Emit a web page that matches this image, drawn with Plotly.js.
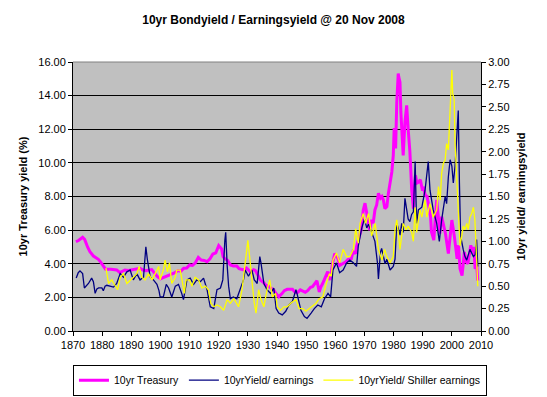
<!DOCTYPE html>
<html>
<head>
<meta charset="utf-8">
<script src="https://cdn.plot.ly/plotly-3.0.1.min.js"></script>
<style>html,body{margin:0;padding:0;background:#fff;}#chart{width:547px;height:397px;}</style>
</head>
<body>
<div id="chart"></div>
<script>
// 10yr Treasury yield (%) - left axis
const tsyYears = [1871.0,1872.0,1873.3,1874.0,1875.0,1875.8,1877.0,1878.7,1879.5,1880.4,1881.2,1883.0,1885.0,1886.1,1887.8,1889.0,1890.0,1891.9,1893.0,1894.0,1895.0,1897.0,1898.0,1899.0,1900.0,1901.5,1903.0,1905.0,1906.0,1907.0,1908.0,1909.0,1910.0,1911.0,1912.0,1913.0,1914.0,1915.0,1916.0,1917.0,1918.0,1919.0,1920.0,1921.0,1921.5,1922.0,1923.0,1924.0,1925.0,1926.2,1927.0,1928.5,1929.5,1930.8,1932.0,1932.6,1933.5,1934.3,1935.4,1936.0,1937.2,1938.0,1938.9,1939.8,1940.6,1941.8,1942.5,1943.5,1944.5,1945.3,1946.2,1947.0,1948.0,1948.7,1949.7,1950.5,1951.5,1952.2,1953.0,1953.7,1954.5,1955.0,1955.7,1956.5,1957.4,1958.2,1958.6,1959.1,1959.8,1960.9,1961.5,1962.6,1963.5,1964.4,1965.5,1966.1,1967.0,1967.3,1968.4,1969.0,1969.6,1970.2,1970.8,1971.3,1971.8,1972.5,1973.0,1973.6,1974.2,1974.8,1975.5,1976.0,1976.5,1977.0,1977.7,1978.2,1978.8,1979.4,1979.9,1980.2,1980.5,1980.7,1981.1,1981.6,1981.8,1982.2,1982.5,1983.0,1983.3,1983.9,1984.5,1985.0,1985.6,1986.2,1986.8,1987.1,1987.5,1988.0,1988.6,1989.2,1989.8,1990.3,1990.9,1991.5,1992.1,1992.7,1993.0,1993.8,1994.8,1995.5,1995.9,1996.5,1997.0,1997.8,1998.8,1999.5,2000.0,2000.8,2001.3,2001.8,2002.3,2002.8,2003.5,2004.3,2005.0,2005.5,2006.5,2007.0,2007.5,2008.0,2008.5,2008.9];
const tsyVals = [5.31,5.40,5.57,5.45,5.00,4.72,4.46,4.26,4.10,3.87,3.67,3.67,3.63,3.47,3.63,3.60,3.63,3.67,3.73,3.63,3.59,3.65,3.45,3.23,3.11,3.20,3.33,3.47,3.59,3.55,3.73,3.75,3.93,3.90,4.06,4.38,4.22,4.20,4.12,4.30,4.58,4.65,5.08,4.88,4.42,4.32,4.20,3.93,3.87,3.87,3.70,3.63,3.75,3.53,3.65,3.59,3.25,3.03,2.88,2.75,2.64,2.55,2.44,2.20,2.04,2.24,2.40,2.48,2.50,2.48,2.30,2.28,2.45,2.40,2.30,2.40,2.60,2.64,2.80,2.99,2.32,2.60,2.84,3.20,3.53,3.03,3.60,4.02,4.60,4.32,3.90,4.02,4.10,4.26,4.30,4.72,4.60,5.02,5.81,6.10,7.20,7.60,7.00,6.41,6.00,6.61,6.40,7.20,7.50,8.19,7.90,8.00,7.79,7.28,7.40,8.17,8.86,9.46,10.45,12.00,12.03,10.85,13.62,15.31,15.10,14.80,13.03,11.44,10.45,12.43,13.42,12.03,10.65,8.46,7.28,8.46,9.26,8.80,8.86,9.00,8.46,8.50,8.07,8.00,7.48,6.80,5.90,5.40,7.80,6.50,5.80,6.80,6.40,5.80,4.60,5.80,6.60,5.70,5.00,4.30,5.10,3.70,3.30,4.70,4.10,4.00,5.10,4.70,5.00,3.70,4.00,3.00];

// 10yr yield / earnings yield - right axis
const peYears = [1871.1,1871.8,1872.4,1873.3,1873.9,1874.5,1875.3,1876.4,1877.0,1877.6,1878.2,1878.8,1879.9,1880.4,1881.0,1881.6,1882.7,1883.9,1885.0,1886.2,1887.3,1888.5,1889.6,1890.7,1891.9,1893.0,1894.2,1894.7,1895.0,1895.5,1895.9,1896.5,1897.6,1898.8,1899.5,1899.9,1901.0,1902.0,1902.8,1903.9,1905.1,1906.2,1907.3,1907.9,1909.1,1910.2,1911.4,1912.5,1913.7,1914.8,1916.0,1917.1,1918.3,1919.4,1920.6,1921.4,1922.1,1922.4,1922.9,1923.4,1924.0,1925.0,1926.2,1927.4,1928.5,1929.1,1930.2,1931.4,1932.2,1933.2,1934.1,1934.5,1935.5,1936.6,1937.8,1938.9,1939.7,1940.6,1941.8,1943.0,1944.1,1945.3,1946.5,1947.0,1948.2,1949.4,1950.3,1951.7,1952.8,1954.0,1955.2,1956.3,1957.5,1958.4,1959.2,1960.4,1961.5,1962.7,1963.9,1965.0,1966.2,1967.3,1967.9,1969.1,1970.0,1970.8,1971.4,1972.5,1973.6,1974.5,1974.8,1975.5,1975.9,1977.1,1977.7,1978.8,1979.9,1980.5,1981.1,1981.6,1982.2,1982.8,1983.3,1983.9,1984.5,1985.0,1985.6,1986.2,1986.8,1987.4,1987.9,1988.5,1989.7,1990.8,1991.9,1992.5,1993.6,1994.8,1995.7,1996.5,1997.7,1998.2,1998.8,1999.4,2000.0,2000.5,2001.1,2001.7,2002.2,2002.6,2003.0,2003.9,2004.5,2005.1,2006.2,2007.4,2008.0,2008.5,2008.9];
const peVals = [0.59,0.65,0.67,0.64,0.48,0.50,0.53,0.59,0.55,0.42,0.47,0.48,0.48,0.45,0.50,0.51,0.50,0.49,0.53,0.64,0.60,0.66,0.68,0.57,0.64,0.57,0.60,0.83,0.94,0.80,0.72,0.60,0.57,0.52,0.45,0.38,0.38,0.52,0.48,0.38,0.50,0.52,0.42,0.35,0.57,0.59,0.52,0.57,0.55,0.59,0.46,0.27,0.25,0.46,0.48,0.57,1.01,1.10,0.73,0.50,0.36,0.38,0.36,0.48,0.57,0.68,0.61,0.68,0.57,0.53,0.83,0.76,0.53,0.46,0.42,0.48,0.25,0.20,0.18,0.22,0.29,0.33,0.46,0.40,0.23,0.16,0.14,0.20,0.25,0.29,0.27,0.36,0.42,0.38,0.68,0.76,0.65,0.68,0.76,0.79,0.76,0.72,0.95,1.15,1.25,1.15,1.19,1.10,1.00,0.75,0.58,0.88,0.92,0.75,0.80,0.68,0.72,0.80,1.20,1.15,1.07,1.20,1.10,1.48,1.33,1.25,1.22,1.30,1.33,1.89,1.20,1.35,1.38,1.57,1.89,1.57,1.35,1.20,1.00,1.24,1.50,1.42,1.72,1.91,1.84,1.65,1.84,2.20,2.46,1.65,1.06,0.91,0.83,0.79,0.91,0.83,0.85,1.02,0.72];

// 10yr yield / Shiller earnings yield - right axis
const shYears = [1881.3,1882.2,1883.3,1884.5,1885.3,1886.2,1887.3,1888.5,1889.6,1890.7,1891.9,1892.7,1893.6,1894.7,1895.9,1897.1,1898.2,1899.4,1899.9,1901.0,1901.6,1902.4,1903.1,1903.9,1905.1,1905.6,1906.8,1907.6,1908.2,1908.8,1910.0,1910.8,1911.9,1913.1,1914.2,1915.4,1916.5,1917.3,1918.3,1919.4,1920.6,1921.7,1922.9,1924.0,1925.2,1926.8,1928.0,1928.8,1929.7,1930.0,1930.6,1931.4,1932.2,1932.8,1933.7,1934.5,1935.5,1936.6,1937.5,1938.4,1939.5,1940.1,1941.2,1942.4,1943.5,1944.7,1946.5,1947.6,1948.8,1949.9,1951.1,1952.2,1953.4,1954.5,1955.7,1956.9,1958.0,1958.6,1959.2,1960.4,1961.5,1962.7,1963.9,1965.0,1966.2,1967.0,1967.9,1968.5,1969.6,1970.4,1971.4,1972.5,1973.7,1974.8,1976.0,1976.9,1977.7,1978.8,1979.9,1980.5,1981.1,1981.6,1982.2,1983.3,1984.3,1985.0,1986.2,1986.8,1987.4,1987.9,1989.1,1989.7,1990.8,1991.4,1992.5,1993.6,1994.8,1995.4,1996.0,1996.5,1997.1,1997.7,1998.2,1998.8,1999.4,2000.0,2000.3,2000.8,2001.1,2001.7,2002.2,2002.8,2003.4,2003.9,2004.5,2005.1,2005.6,2006.2,2006.8,2007.4,2007.9,2008.3,2008.7,2008.9];
const shVals = [0.70,0.53,0.57,0.50,0.46,0.60,0.64,0.53,0.57,0.60,0.64,0.72,0.60,0.57,0.64,0.57,0.64,0.72,0.57,0.68,0.79,0.66,0.76,0.53,0.60,0.68,0.68,0.50,0.42,0.57,0.57,0.50,0.60,0.57,0.48,0.50,0.46,0.31,0.27,0.29,0.27,0.23,0.35,0.31,0.36,0.27,0.46,0.68,0.91,1.01,0.83,0.53,0.31,0.20,0.46,0.35,0.27,0.46,0.57,0.38,0.42,0.27,0.23,0.27,0.27,0.31,0.35,0.25,0.25,0.22,0.25,0.27,0.31,0.36,0.38,0.53,0.64,0.61,0.79,0.87,0.76,0.91,0.83,0.83,0.91,1.14,0.98,1.20,1.31,1.20,1.31,1.06,1.20,0.91,0.79,0.91,0.83,0.76,0.83,1.13,1.24,1.10,0.91,1.20,1.13,1.17,1.10,1.00,1.38,1.10,1.35,1.27,1.46,1.27,1.42,1.27,1.35,1.61,1.46,1.76,1.87,1.91,2.09,2.02,2.50,2.91,2.65,2.58,2.09,1.65,1.38,0.95,1.06,1.17,1.13,1.20,1.13,1.27,1.31,1.38,1.24,0.91,0.72,0.50];

const seriesNames = ['10yr Treasury', '10yrYield/ earnings', '10yrYield/ Shiller earnings'];
const xTicks = [1870,1880,1890,1900,1910,1920,1930,1940,1950,1960,1970,1980,1990,2000,2010];

const FONT = 'Arial, "Liberation Sans", sans-serif';

const traces = [
  {x: tsyYears, y: tsyVals, name: seriesNames[0], type: 'scatter', mode: 'lines',
   line: {color: '#FF00FF', width: 3}, yaxis: 'y'},
  {x: peYears, y: peVals, name: seriesNames[1], type: 'scatter', mode: 'lines',
   line: {color: '#000080', width: 1.3}, yaxis: 'y2'},
  {x: shYears, y: shVals, name: seriesNames[2], type: 'scatter', mode: 'lines',
   line: {color: '#FFFF00', width: 1.3}, yaxis: 'y2'}
];

const layout = {
  width: 547, height: 397,
  margin: {l: 73, r: 66, t: 62, b: 66, pad: 0, autoexpand: false},
  paper_bgcolor: '#FFFFFF',
  plot_bgcolor: '#C0C0C0',
  font: {family: FONT, size: 11, color: '#000'},
  title: {text: '<b>10yr Bondyield / Earningsyield @ 20 Nov 2008</b>',
          font: {family: FONT, size: 12, color: '#000'}, x: 0.5, xanchor: 'center', y: 0.95, yanchor: 'middle'},
  showlegend: true,
  legend: {orientation: 'h', x: -0.0001, xanchor: 'left', y: -0.125, yanchor: 'top',
           bordercolor: '#000', borderwidth: 1, bgcolor: '#FFFFFF',
           font: {family: FONT, size: 10.5, color: '#000'}, tracegroupgap: 0, itemwidth: 30},
  xaxis: {range: [1870, 2010], tickmode: 'array', tickvals: xTicks, ticktext: xTicks.map(String),
          showgrid: false, zeroline: false, showline: true, linecolor: '#000', linewidth: 1,
          ticks: 'outside', ticklen: 4, tickcolor: '#000', tickfont: {family: FONT, size: 11}},
  yaxis: {range: [0, 16], dtick: 2, tickformat: '.2f', showgrid: true, gridcolor: '#000', gridwidth: 1,
          zeroline: false, showline: true, linecolor: '#000', linewidth: 1,
          ticks: 'outside', ticklen: 4, tickcolor: '#000', tickfont: {family: FONT, size: 11},
          title: {text: '<b>10yr Treasury yield (%)</b>', font: {family: FONT, size: 11}, standoff: 8}},
  yaxis2: {range: [0, 3], dtick: 0.25, tickformat: '.2f', overlaying: 'y', side: 'right',
           showgrid: false, zeroline: false, showline: true, linecolor: '#000', linewidth: 1,
           ticks: 'outside', ticklen: 4, tickcolor: '#000', tickfont: {family: FONT, size: 11},
           title: {text: '<b>10yr yield/ earningsyield</b>', font: {family: FONT, size: 11}, standoff: 8}},
  shapes: [{type: 'line', xref: 'paper', yref: 'paper', x0: 0, x1: 1, y0: 1, y1: 1,
            line: {color: '#808080', width: 1}}]
};

Plotly.newPlot('chart', traces, layout, {displayModeBar: false, staticPlot: true});
</script>
</body>
</html>
